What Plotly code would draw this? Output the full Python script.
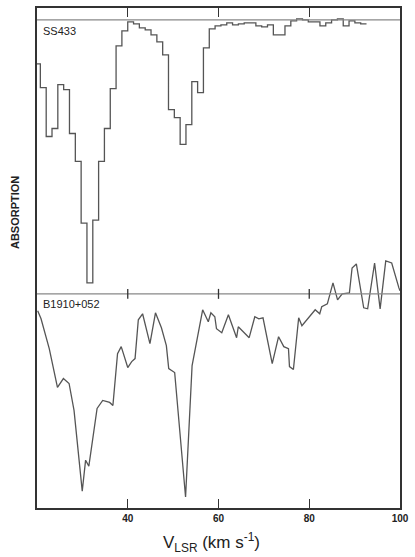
import plotly.graph_objects as go

# ---------------- data ----------------
# SS433: channel centre velocities (km/s) and relative absorption (arbitrary units, 0 = continuum)
ss433_v = [20.10, 21.38, 22.67, 23.95, 25.23, 26.52, 27.80, 29.09, 30.37, 31.65,
           32.94, 34.22, 35.50, 36.79, 38.07, 39.35, 40.64, 41.92, 43.20, 44.49,
           45.77, 47.06, 48.34, 49.62, 50.91, 52.19, 53.47, 54.76, 56.04, 57.32,
           58.61, 59.89, 61.18, 62.46, 63.74, 65.03, 66.31, 67.59, 68.88, 70.16,
           71.44, 72.73, 74.01, 75.29, 76.58, 77.86, 79.15, 80.43, 81.71, 83.00,
           84.28, 85.56, 86.85, 88.13, 89.41, 90.70, 91.98]
ss433_abs = [-0.44, -0.68, -1.17, -1.09, -0.65, -0.70, -1.14, -1.42, -2.04, -2.64,
             -2.01, -1.42, -1.09, -0.69, -0.26, -0.11, -0.02, -0.04, -0.08, -0.10,
             -0.15, -0.22, -0.35, -0.90, -0.98, -1.25, -1.05, -0.62, -0.73, -0.28,
             -0.09, -0.06, -0.05, -0.03, -0.05, -0.04, -0.03, -0.03, -0.06, -0.07,
             -0.05, -0.15, -0.15, -0.06, -0.01, 0.01, 0.00, -0.02, -0.02, -0.06,
             -0.03, 0.00, 0.01, -0.06, -0.01, -0.03, -0.04]
ss433_chan_width = 1.2836

# B1910+052: velocities (km/s) and relative absorption
b1910_v = [20.15, 20.89, 22.70, 24.51, 25.82, 27.07, 28.16, 29.97, 30.71, 31.43,
           33.24, 34.48, 36.01, 36.73, 37.75, 38.56, 40.00, 40.87, 41.61, 42.33,
           43.27, 44.89, 46.11, 47.42, 48.51, 49.03, 50.34, 52.74, 54.18, 55.05,
           56.51, 57.75, 58.32, 59.19, 59.56, 60.72, 62.18, 63.99, 64.36, 66.76,
           68.00, 68.88, 69.81, 71.84, 73.24, 74.39, 75.42, 75.64, 76.51, 77.67,
           78.39, 81.31, 82.31, 82.75, 83.99, 85.23, 86.24, 87.26, 88.85, 89.44,
           90.38, 92.00, 92.87, 94.40, 95.62, 96.86, 98.17, 99.76, 100.0]
b1910_abs = [-0.17, -0.25, -0.55, -0.94, -0.85, -0.90, -1.17, -1.98, -1.67, -1.73,
             -1.15, -1.07, -1.09, -1.12, -0.60, -0.53, -0.74, -0.68, -0.65, -0.26,
             -0.20, -0.50, -0.19, -0.34, -0.52, -0.75, -0.79, -2.04, -0.72, -0.50,
             -0.16, -0.28, -0.19, -0.23, -0.35, -0.39, -0.21, -0.44, -0.33, -0.44,
             -0.23, -0.25, -0.24, -0.70, -0.43, -0.53, -0.55, -0.73, -0.76, -0.24,
             -0.32, -0.16, -0.20, -0.13, -0.10, 0.11, -0.06, 0.00, 0.01, 0.26,
             0.30, -0.14, -0.15, 0.31, -0.15, 0.33, 0.31, 0.06, 0.03]

x_ticks = [40, 60, 80, 100]
x_ticklabels = ["40", "60", "80", "100"]

# ---------------- figure ----------------
FONT = "Liberation Sans, Arial, Helvetica, sans-serif"
LINE = "#555555"
FRAME = "#333333"

# step edges for histogram
half = ss433_chan_width / 2
ss_x = [v - half for v in ss433_v] + [ss433_v[-1] + half]
ss_y = ss433_abs + [ss433_abs[-1]]

fig = go.Figure()
fig.add_trace(go.Scatter(x=ss_x, y=ss_y, mode="lines", line=dict(color=LINE, width=1.3, shape="hv"),
                         yaxis="y", showlegend=False, hoverinfo="skip"))
fig.add_trace(go.Scatter(x=b1910_v, y=b1910_abs, mode="lines", line=dict(color=LINE, width=1.3),
                         yaxis="y2", showlegend=False, hoverinfo="skip"))

shapes = [
    dict(type="line", xref="x", yref="y", x0=20, x1=100, y0=0, y1=0, line=dict(color="#888888", width=1.3)),
    dict(type="line", xref="x", yref="y2", x0=20, x1=100, y0=0, y1=0, line=dict(color="#888888", width=1.3)),
]
for t in [40, 60, 80]:
    shapes.append(dict(type="line", xref="x", yref="y2", x0=t, x1=t, y0=-0.05, y1=0.05,
                       line=dict(color=FRAME, width=1.3)))

fig.update_layout(
    width=415, height=557,
    margin=dict(l=37, r=12, t=6, b=49),
    paper_bgcolor="white", plot_bgcolor="white",
    xaxis=dict(range=[20, 100], showline=True, mirror="ticks", linecolor=FRAME, linewidth=1.5,
               ticks="inside", ticklen=9, tickwidth=1.3, tickcolor=FRAME,
               tickvals=x_ticks, ticktext=x_ticklabels,
               tickfont=dict(family=FONT, size=10, color="#222222", weight="bold"),
               showgrid=False, zeroline=False),
    yaxis=dict(range=[-4.90, 0.12], showline=True, mirror=True, linecolor=FRAME, linewidth=1.5,
               ticks="", showticklabels=False, showgrid=False, zeroline=False),
    yaxis2=dict(range=[-2.15, 2.87], overlaying="y", visible=False, showgrid=False, zeroline=False),
    shapes=shapes,
    annotations=[
        dict(text="SS433", xref="x", yref="y", x=20, y=-0.11, xanchor="left", yanchor="middle",
             xshift=3.5, showarrow=False, font=dict(family=FONT, size=11, color="#222222")),
        dict(text="B1910+052", xref="x", yref="y2", x=20, y=-0.10, xanchor="left", yanchor="middle",
             xshift=3.5, showarrow=False, font=dict(family=FONT, size=11, color="#222222")),
        dict(text="ABSORPTION", xref="paper", yref="paper", x=-0.061, y=0.5916, textangle=-90,
             xanchor="center", yanchor="middle", showarrow=False,
             font=dict(family=FONT, size=11, color="#222222", weight="bold")),
        dict(text="V<sub>LSR</sub> (km s<sup>-1</sup>)", xref="paper", yref="paper", x=0.482, y=-0.0697,
             xanchor="center", yanchor="middle", showarrow=False,
             font=dict(family=FONT, size=17, color="#222222")),
    ],
)

fig.write_html("out.html", config={"displayModeBar": False},
               post_script="document.body.style.margin='0';document.body.style.overflow='hidden';")
